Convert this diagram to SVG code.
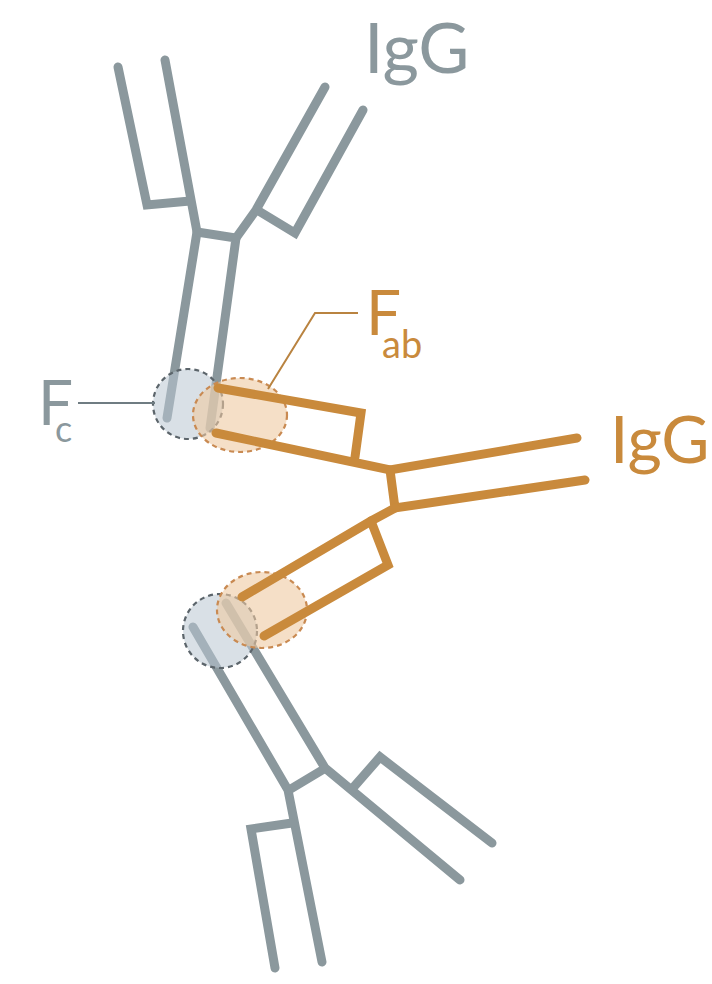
<svg xmlns="http://www.w3.org/2000/svg" width="712" height="984" viewBox="0 0 712 984">
  <style>
    .g { fill: none; stroke: #8b989d; stroke-width: 9; stroke-linecap: round; stroke-linejoin: miter; }
    .o { fill: none; stroke: #c98a3c; stroke-width: 9; stroke-linecap: round; stroke-linejoin: miter; }
    .fc { fill: #b9c6d2; fill-opacity: 0.55; stroke: #5c656b; stroke-width: 2.2; stroke-dasharray: 5 4; }
    .fab { fill: #efc9a2; fill-opacity: 0.6; stroke: #c98a52; stroke-width: 2.2; stroke-dasharray: 5 4; }
    .lead-g { fill: none; stroke: #6f7c82; stroke-width: 2; }
    .lead-o { fill: none; stroke: #b98340; stroke-width: 2; }
    text { font-family: Lato, "Open Sans", "Liberation Sans", sans-serif; }
    .tg { fill: #8b989d; }
    .to { fill: #c98a3c; }
  </style>

  <!-- top antibody (grey) -->
  <g id="igg-top">
    <polyline class="g" points="118,67 147,205 190,201"/>
    <polyline class="g" points="165,60 197,232 167,418"/>
    <polyline class="g" points="197,232 236,238 210,428"/>
    <polyline class="g" points="236,238 256,210 325,87" stroke-linejoin="round"/>
    <polyline class="g" points="363,110 295,233 257,210"/>
  </g>

  <!-- bottom antibody (grey) -->
  <g id="igg-bottom">
    <polyline class="g" points="193,627 288,790 322,962"/>
    <polyline class="g" points="226,603 325,768 460,880"/>
    <polyline class="g" points="289,790 324,769"/>
    <polyline class="g" points="352,789 380,757 492,843"/>
    <polyline class="g" points="292,823 251,829 275,968"/>
  </g>

  <!-- Fc regions -->
  <g id="fc-top"><circle class="fc" cx="188" cy="404" r="35"/></g>
  <g id="fc-bottom"><circle class="fc" cx="220" cy="631" r="37"/></g>

  <!-- Fab regions -->
  <g id="fab-top"><ellipse class="fab" cx="240" cy="415" rx="47" ry="37"/></g>
  <g id="fab-bottom"><ellipse class="fab" cx="262" cy="610" rx="45" ry="38"/></g>

  <!-- middle antibody (orange) -->
  <g id="igg-middle">
    <polyline class="o" points="218,388 361,413 355,457"/>
    <polyline class="o" points="216,433 390,470 577,438"/>
    <polyline class="o" points="390,470 395,508 585,480"/>
    <polyline class="o" points="395,508 371,521 242,597"/>
    <polyline class="o" points="371,521 388,565 264,636"/>
  </g>

  <!-- leader lines -->
  <g id="connectors">
    <polyline class="lead-g" points="78,403 155,403"/>
    <polyline class="lead-o" points="358,313 315,313 268,389"/>
  </g>

  <!-- labels -->
  <g id="label-igg-top"><text class="tg" x="364" y="73" font-size="70">IgG</text></g>
  <g id="label-igg-middle"><text class="to" x="610" y="463" font-size="66">IgG</text></g>
  <g id="label-fc">
    <text class="tg" x="38" y="425" font-size="62">F</text>
    <text class="tg" x="55" y="442" font-size="36">c</text>
  </g>
  <g id="label-fab">
    <text class="to" x="366" y="335" font-size="62">F</text>
    <text class="to" x="382" y="358" font-size="38">ab</text>
  </g>
</svg>
